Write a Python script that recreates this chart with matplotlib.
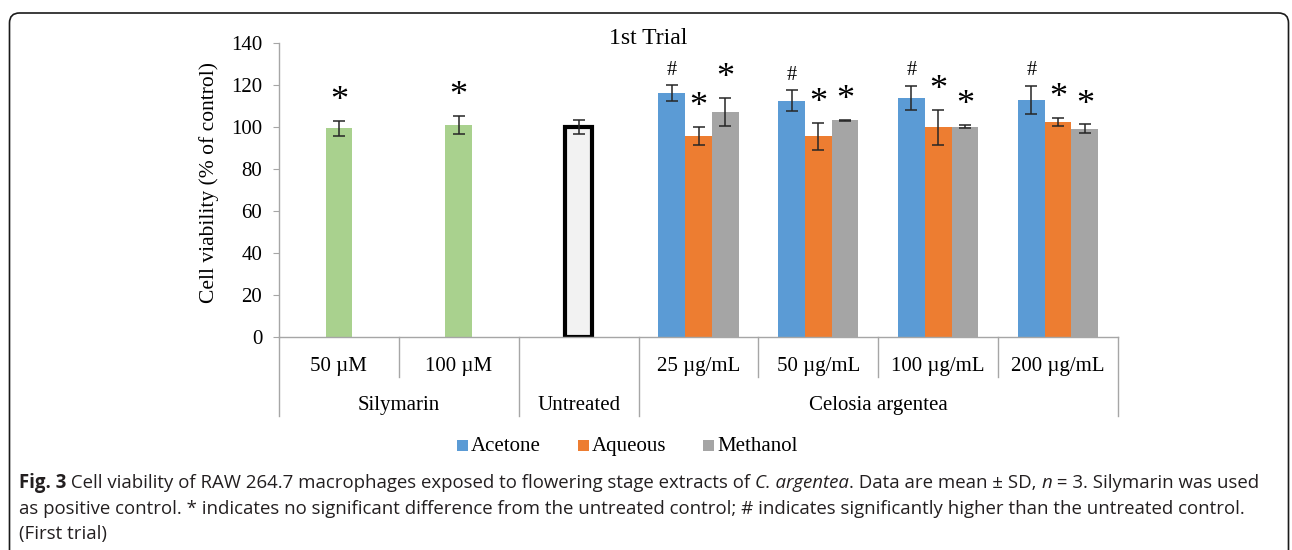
import matplotlib
matplotlib.use("Agg")
import matplotlib.pyplot as plt
from matplotlib.patches import Rectangle, FancyBboxPatch
from matplotlib.transforms import IdentityTransform, blended_transform_factory

# ---- data ----
sily_labels = ["50 \u00b5M", "100 \u00b5M"]
sily_vals = [99.3, 101.0]
sily_err = [3.7, 4.2]
sily_marks = ["*", "*"]

untreated_val = 100.0
untreated_err = 3.5

conc_labels = ["25 \u00b5g/mL", "50 \u00b5g/mL", "100 \u00b5g/mL", "200 \u00b5g/mL"]
acetone = [116.2, 112.4, 114.0, 113.0]
acetone_err = [3.6, 5.0, 5.7, 6.7]
aqueous = [95.7, 95.6, 99.8, 102.4]
aqueous_err = [4.4, 6.4, 8.2, 1.7]
methanol = [107.2, 103.1, 100.2, 99.2]
methanol_err = [6.7, 0.3, 0.8, 2.0]
series_names = ["Acetone", "Aqueous", "Methanol"]
series_marks = ["#", "*", "*"]

group_names = ["Silymarin", "Untreated", "Celosia argentea"]
group_sizes = [2, 1, 4]

title = "1st Trial"
ylabel = "Cell viability (% of control)"

colors = ["#5b9bd5", "#ed7d31", "#a5a5a5"]
sily_color = "#a9d18e"

W, H = 1292, 550
fig = plt.figure(figsize=(W / 100, H / 100), dpi=100)
renderer = fig.canvas.get_renderer()
serif = "Liberation Serif"
fs = 15

ax = fig.add_axes([279 / W, 1 - 337 / H, (1118 - 279) / W, (337 - 43) / H])
ax.set_xlim(-0.5, 6.5)
ax.set_ylim(0, 140)

bw = 0.223
err_kw = dict(fmt="none", ecolor="#262626", elinewidth=1.1, capsize=4, capthick=1.1, zorder=4)


def mark(x, top, s):
    if s == "*":
        ax.annotate(s, (x, top), xytext=(0, 14), textcoords="offset points",
                    ha="center", va="center", fontsize=26, family=serif)
    else:
        ax.annotate(s, (x, top), xytext=(0, 11), textcoords="offset points",
                    ha="center", va="center", fontsize=14.5, family=serif)


# silymarin
sx = list(range(len(sily_vals)))
ax.bar(sx, sily_vals, width=bw, color=sily_color, zorder=2)
ax.errorbar(sx, sily_vals, yerr=sily_err, **err_kw)
for x, v, e, m in zip(sx, sily_vals, sily_err, sily_marks):
    mark(x, v + e, m)

# untreated
ux = len(sily_vals)
ax.bar([ux], [untreated_val], width=bw, color="#f2f2f2", edgecolor="black", linewidth=3, zorder=2)
ax.errorbar([ux], [untreated_val], yerr=[untreated_err], **err_kw)

# celosia argentea extracts
cx0 = ux + 1
for k, (vals, errs, c, m) in enumerate(zip([acetone, aqueous, methanol],
                                            [acetone_err, aqueous_err, methanol_err],
                                            colors, series_marks)):
    xs = [cx0 + i + (k - 1) * bw for i in range(len(vals))]
    ax.bar(xs, vals, width=bw, color=c, zorder=2)
    ax.errorbar(xs, vals, yerr=errs, **err_kw)
    for x, v, e in zip(xs, vals, errs):
        mark(x, v + e, m)

# axes styling
for s in ["top", "right"]:
    ax.spines[s].set_visible(False)
for s in ["left", "bottom"]:
    ax.spines[s].set_color("#a6a6a6")
    ax.spines[s].set_linewidth(1)
ax.set_yticks(range(0, 141, 20))
ax.tick_params(axis="y", length=4, color="#a6a6a6", labelsize=fs, pad=8)
for t in ax.get_yticklabels():
    t.set_family(serif)
ax.set_xticks([])
ax.set_ylabel(ylabel, fontsize=15.5, family=serif)
ax.yaxis.set_label_coords((219 - 279) / (1118 - 279), 0.527)

fig.text(648 / W, 1 - 39 / H, title, ha="center", va="center", fontsize=17, family=serif)

# two level category axis
tr = blended_transform_factory(ax.transData, fig.transFigure)
sub_labels = sily_labels + [""] + conc_labels
for i, lab in enumerate(sub_labels):
    ax.text(i, 1 - 364 / H, lab, transform=tr, ha="center", va="center_baseline",
            fontsize=fs, family=serif)
edges = [0]
for n in group_sizes:
    edges.append(edges[-1] + n)
for b in range(len(sub_labels) + 1):
    yb = 416 if b in edges else 377
    ax.plot([b - 0.5, b - 0.5], [1 - 337 / H, 1 - yb / H], transform=tr, color="#a6a6a6",
            lw=1, clip_on=False)
for g, name in enumerate(group_names):
    xc = (edges[g] + edges[g + 1] - 1) / 2
    ax.text(xc, 1 - 403 / H, name, transform=tr, ha="center", va="center_baseline",
            fontsize=fs, family=serif)

# legend, laid out in a row on one baseline
lx, lbase, sq = 457, 451, 11
for c, n in zip(colors, series_names):
    fig.add_artist(Rectangle((lx, H - lbase), sq, sq, transform=IdentityTransform(),
                             facecolor=c, edgecolor="none"))
    t = fig.text(lx + sq + 3, H - lbase, n, transform=IdentityTransform(), ha="left",
                 va="baseline", fontsize=fs, family=serif)
    lx = t.get_window_extent(renderer).x1 + 37

# frame round the figure panel
frame = FancyBboxPatch((9.5, -30), 1279, H - 13 + 30, boxstyle="round,pad=0,rounding_size=10",
                       transform=IdentityTransform(), fill=False, edgecolor="#1a1a1a", linewidth=1.2)
fig.add_artist(frame)

# caption
cap_font = "Open Sans"
cap_size = 13.4
cap_col = "#231f20"
cap_lines = [
    [("Fig. 3", "bold", "normal"),
     (" Cell viability of RAW 264.7 macrophages exposed to flowering stage extracts of ", "normal", "normal"),
     ("C. argentea", "normal", "italic"),
     (". Data are mean \u00b1 SD, ", "normal", "normal"),
     ("n", "normal", "italic"),
     (" = 3. Silymarin was used", "normal", "normal")],
    [("as positive control. * indicates no significant difference from the untreated control; "
      "# indicates significantly higher than the untreated control.", "normal", "normal")],
    [("(First trial)", "normal", "normal")],
]
baselines = [488, 513.5, 539]
for runs, yb in zip(cap_lines, baselines):
    x = 19
    for txt, wt, st in runs:
        t = fig.text(x, H - yb, txt, transform=IdentityTransform(), ha="left", va="baseline",
                     fontsize=cap_size, family=cap_font, weight=wt, style=st, color=cap_col)
        x = t.get_window_extent(renderer).x1

fig.savefig("out.png", dpi=100)
